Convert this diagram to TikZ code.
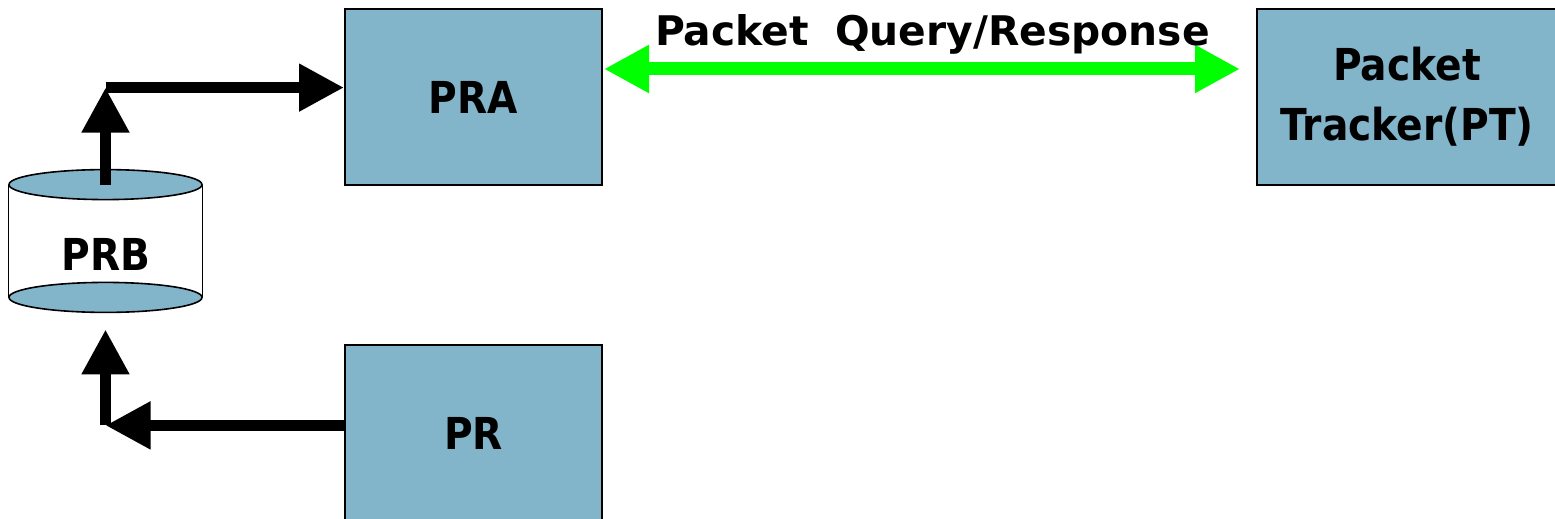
\documentclass[tikz,border=0pt]{standalone}
\usepackage{fontspec}
\setmainfont{DejaVu Sans}
\newfontfamily\boxfont[FakeStretch=0.89]{DejaVu Sans}
\usetikzlibrary{arrows.meta,calc}
\definecolor{boxblue}{RGB}{130,180,202}
\definecolor{brightgreen}{RGB}{0,255,0}
\begin{document}
\begin{tikzpicture}[x=0.5pt,y=-0.5pt,
  blockbox/.style={draw=black, line width=1pt, fill=boxblue, minimum width=128.5pt,
    minimum height=88pt, inner sep=0pt, align=center,
    font=\boxfont\fontsize{22}{30}\selectfont\bfseries},
  cylline/.style={draw=black, line width=0.8pt},
  blackarrow/.style={draw=black, line width=5.5pt, -{Triangle[length=22.5pt,width=22.5pt]}},
  greenarrow/.style={draw=brightgreen, line width=6.5pt,
    {Triangle[length=22.5pt,width=22.5pt]}-{Triangle[length=22.5pt,width=22.5pt]}},
  lbl/.style={inner sep=0pt, font=\boxfont\fontsize{22}{24}\selectfont\bfseries}]
\useasboundingbox (0,0) rectangle (1555,519);
\fill[white] (0,0) rectangle (1555,519);

% boxes
\node[blockbox] (PRA) at (473.5,97) {PRA};
\node[blockbox, minimum width=150pt] (PT) at (1407,97) {Packet\\Tracker(PT)};
\node[blockbox] (PR) at (473.5,433) {PR};

% cylinder PRB
\node[minimum width=96.5pt, minimum height=56pt, inner sep=0pt] (PRB) at (105.5,241) {};
\fill[white] (PRB.north west) rectangle (PRB.south east);
\draw[cylline] (PRB.north west) -- (PRB.south west);
\draw[cylline] (PRB.north east) -- (PRB.south east);
\draw[cylline, fill=boxblue] (PRB.south) ellipse [x radius=48.25pt, y radius=7.5pt];
\draw[cylline, fill=boxblue] (PRB.north) ellipse [x radius=48.25pt, y radius=7.5pt];
\node[lbl] (PRBlabel) at (106,254) {PRB};

% black connectors
\coordinate (c1) at ($(PRB.north)+(0,-97)$);
\draw[blackarrow] (PRB.north) -- (c1);
\draw[blackarrow] (c1) -- (c1 -| PRA.west);
\coordinate (c2) at ($(PRB.south)+(0,128)$);
\coordinate (t2) at ($(PRB.south)+(0,32)$);
\draw[blackarrow] (c2 -| PR.west) -- (c2);
\draw[blackarrow] (c2) -- (t2);

% green connector
\draw[greenarrow] ($(PRA.north east)+(1,61)$) -- ($(PT.north west)+(-16,61)$);
\node[inner sep=0pt, anchor=base, font=\fontsize{20.4}{24}\selectfont\bfseries] (query) at (932.5,46)
  {Packet\hspace{0.3em} Query/Response};
\end{tikzpicture}
\end{document}
